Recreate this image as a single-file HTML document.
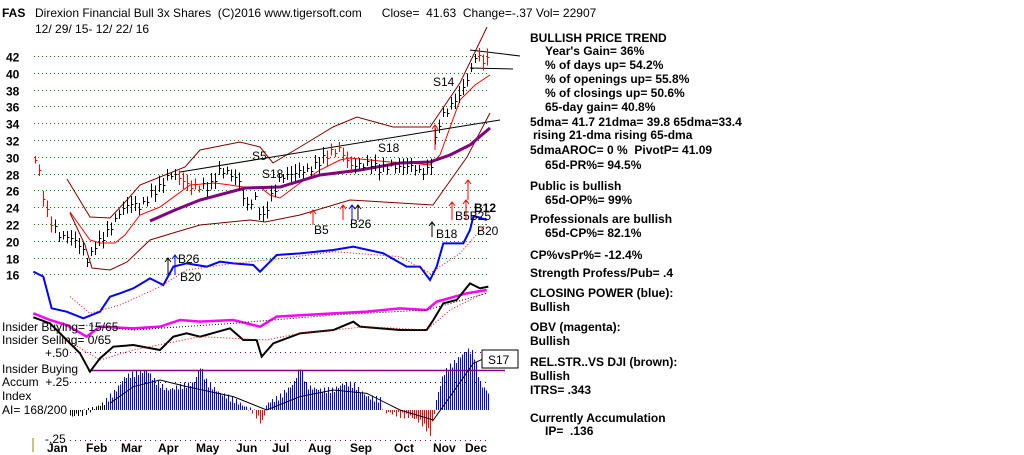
<!DOCTYPE html>
<html><head><meta charset="utf-8"><style>
body{margin:0;background:#fff;width:1024px;height:455px;overflow:hidden}
svg{position:absolute;left:0;top:0}
text{font-family:"Liberation Sans",Arial,sans-serif;font-weight:bold;font-size:12px;fill:#000}
</style></head><body>
<svg id="s" width="1024" height="455" xmlns="http://www.w3.org/2000/svg">
<g id="g"></g>
<text x="2" y="17" font-size="13">FAS</text>
<text x="35" y="17" font-size="13" style="font-weight:normal">Direxion Financial Bull 3x Shares&#160;&#160;(C)2016 www.tigersoft.com&#160;&#160;&#160;&#160;&#160;&#160;Close=&#160;&#160;41.63&#160;&#160;Change=-.37 Vol= 22907</text>
<text x="35" y="33" font-size="13" style="font-weight:normal">12/ 29/ 15- 12/ 22/ 16</text>
<g id="yl"></g>
<g font-size="12">
<text x="530" y="42">BULLISH PRICE TREND</text>
<text x="545" y="55">Year's Gain= 36%</text>
<text x="545" y="69">% of days up= 54.2%</text>
<text x="545" y="83">% of openings up= 55.8%</text>
<text x="545" y="97">% of closings up= 50.6%</text>
<text x="545" y="111">65-day gain= 40.8%</text>
<text x="530" y="126">5dma= 41.7 21dma= 39.8 65dma=33.4</text>
<text x="533" y="139">rising 21-dma  rising 65-dma</text>
<text x="530" y="154">5dmaAROC= 0 %&#160;&#160;PivotP= 41.09</text>
<text x="545" y="169">65d-PR%= 94.5%</text>
<text x="530" y="190">Public is bullish</text>
<text x="545" y="204">65d-OP%= 99%</text>
<text x="530" y="223">Professionals are bullish</text>
<text x="545" y="237">65d-CP%= 82.1%</text>
<text x="530" y="259">CP%vsPr%= -12.4%</text>
<text x="530" y="277">Strength Profess/Pub= .4</text>
<text x="530" y="297">CLOSING POWER (blue):</text>
<text x="530" y="311">Bullish</text>
<text x="530" y="331">OBV (magenta):</text>
<text x="530" y="345">Bullish</text>
<text x="530" y="366">REL.STR..VS DJI (brown):</text>
<text x="530" y="380">Bullish</text>
<text x="530" y="394">ITRS= .343</text>
<text x="530" y="422">Currently Accumulation</text>
<text x="545" y="435">IP=&#160;&#160;.136</text>
</g>
<g font-size="12">
<text x="2" y="331" style="font-weight:normal">Insider Buying= 15/65</text>
<text x="2" y="344" style="font-weight:normal">Insider Selling= 0/65</text>
<text x="45" y="357" style="font-weight:normal">+.50</text>
<text x="2" y="373" style="font-weight:normal">Insider Buying</text>
<text x="2" y="386" style="font-weight:normal">Accum&#160;&#160;+.25</text>
<text x="2" y="400" style="font-weight:normal">Index</text>
<text x="2" y="414" style="font-weight:normal">AI= 168/200</text>
<text x="45" y="443" style="font-weight:normal">-.25</text>
</g>
<g font-size="13">
<text x="47" y="452">Jan</text><text x="86" y="452">Feb</text><text x="121" y="452">Mar</text><text x="158" y="452">Apr</text><text x="196" y="452">May</text><text x="236" y="452">Jun</text><text x="272" y="452">Jul</text><text x="308" y="452">Aug</text><text x="350" y="452">Sep</text><text x="394" y="452">Oct</text><text x="433" y="452">Nov</text><text x="465" y="452">Dec</text>
</g>
<line x1="33" y1="438" x2="33" y2="452" stroke="#a08000"/>
<g>
<text x="252" y="160" font-size="15" style="font-weight:normal">S5</text>
<text x="262" y="178" font-size="15" style="font-weight:normal">S18</text>
<text x="378" y="152" font-size="15" style="font-weight:normal">S18</text>
<text x="433" y="86" font-size="15" style="font-weight:normal">S14</text>
<text x="314" y="234" font-size="13" style="font-weight:normal">B5</text>
<text x="350" y="228" font-size="13" style="font-weight:normal">B26</text>
<text x="436" y="238" font-size="13" style="font-weight:normal">B18</text>
<text x="455" y="220" font-size="13" style="font-weight:normal">B5B25</text>
<text x="474" y="212" font-size="20">B12</text>
<text x="477" y="235" font-size="15" style="font-weight:normal">B20</text>
<text x="178" y="263" font-size="13" style="font-weight:normal">B26</text>
<text x="180" y="281" font-size="15" style="font-weight:normal">B20</text>
</g>
<rect x="482" y="350" width="36" height="18" fill="#fff" stroke="#000"/>
<text x="488" y="364" font-size="14" style="font-weight:normal">S17</text>
</svg>
<script>
var g=document.getElementById('g'),out='';
function Y(p){return 56+(42-p)*8.4}
function pl(pts,c,w,d){out+='<polyline fill="none" stroke="'+c+'" stroke-width="'+w+'"'+(d?' stroke-dasharray="'+d+'"':'')+' points="'+pts.map(function(p){return p[0]+','+p[1]}).join(' ')+'"/>';}
function z(a){var r=[];for(var i=0;i<a.length;i+=2)r.push([a[i]/3,230+a[i+1]/3]);return r}
function interp(pts,x){for(var i=1;i<pts.length;i++){if(x<=pts[i][0]){var a=pts[i-1],b=pts[i],t=(x-a[0])/(b[0]-a[0]||1);return a[1]+t*(b[1]-a[1]);}}return pts[pts.length-1][1];}
var yl='';
for(var p=16;p<=42;p+=2){var y=Math.round(Y(p))+0.5;out+='<line x1="34" x2="490" y1="'+y+'" y2="'+y+'" stroke="#008000" stroke-dasharray="1,3"/>';yl+='<text x="6" y="'+(y+5)+'" font-size="13">'+p+'</text>';}
document.getElementById('yl').innerHTML=yl;
[[352.5,'#800080'],[382.5,'#000'],[440.5,'#800080']].forEach(function(a){out+='<line x1="70" x2="490" y1="'+a[0]+'" y2="'+a[0]+'" stroke="'+a[1]+'" stroke-dasharray="1,4"/>';});
var env=z([210,560,260,545,310,520,340,490,375,440,440,420,460,450,500,480,540,470,580,460,600,410,620,460,660,490,700,510,760,545,785,580,800,520,840,500,880,460,900,410,920,470,960,480,1000,480,1030,460,1060,465,1100,500,1140,510,1150,545,1200,555,1230,560,1260,575,1290,610,1300,560,1310,500,1330,430,1360,400,1400,360,1420,370,1440,460,1465,490]);
out+='<g shape-rendering="crispEdges">';
for(var x=70;x<=489;x+=2){var v=interp(env,x)+Math.sin(x*1.7)*3;var c=v>410?'#f00':'#00f';if(x<105){c='#000';}out+='<line x1="'+(x+0.5)+'" x2="'+(x+0.5)+'" y1="410" y2="'+v+'" stroke="'+c+'"/>';}
out+='</g>';
out+='<line x1="88" x2="505" y1="370.5" y2="370.5" stroke="#800080" stroke-width="1.5"/>';
pl(z([330,520,400,470,480,450,560,470,700,500,800,540,900,500,1000,480,1100,490,1200,540,1300,570,1350,500,1420,400,1465,380]),'#000',1);
var ub=[[67,179],[90,217],[110,218],[127,200],[140,185],[165,175],[185,167],[200,150],[240,142],[260,147],[273,163],[300,147],[333,127],[357,117],[393,127],[430,127],[460,83],[487,27]];
var lb=[[70,213],[85,245],[92,268],[110,270],[127,262],[150,240],[173,233],[200,225],[250,220],[265,222],[300,215],[350,200],[400,203],[433,205],[467,157],[490,113]];
pl(ub,'#800000',1);pl(lb,'#800000',1);
pl([[70,212],[90,240],[100,243],[115,243],[125,235],[140,215],[160,207],[190,185],[215,183],[230,185],[250,188],[260,187],[270,195],[280,198],[300,183],[320,170],[340,160],[350,158],[370,160],[390,162],[410,163],[430,165],[440,155],[460,100],[475,85],[490,75]],'#f00',1);
pl([[150,221],[175,210],[200,200],[245,188],[280,187],[320,175],[360,170],[400,163],[430,162],[450,155],[470,145],[490,128]],'#800080',3);
pl([[180,172],[500,120]],'#000',1);pl([[470,50],[520,56]],'#000',1);pl([[470,68],[513,69]],'#000',1);
var pp=[[35,30],[40,27.5],[45,24],[52,22],[60,20.5],[70,20.5],[80,19.5],[88,17.5],[95,19.5],[100,20],[110,21.5],[120,23.5],[130,24.5],[140,24],[150,25.5],[160,26.5],[170,28],[180,27.5],[190,26.5],[200,26.5],[210,26.5],[220,28.5],[230,28],[240,27],[245,24],[255,25],[262,22.5],[270,25],[280,27.5],[290,28],[300,28.3],[310,28.5],[320,29.5],[330,30.5],[340,31],[350,29],[360,29],[370,29.3],[380,28.5],[390,29],[400,28.8],[410,29],[420,28.2],[430,28.5],[435,32],[440,34.5],[450,36],[460,37.5],[470,40],[475,42],[485,41.5],[490,41.5]];
out+='<g shape-rendering="crispEdges">';
for(var x=35;x<=490;x+=4){var p=interp(pp,x)+Math.sin(x*2.3)*0.4;var h=0.4+Math.abs(Math.sin(x*0.9))*0.6;var c=(Math.sin(x*3.1)>0.85)?'#f00':'#000';var X=x+0.5;out+='<line x1="'+X+'" x2="'+X+'" y1="'+Y(p+h)+'" y2="'+Y(p-h)+'" stroke="'+c+'"/><line x1="'+X+'" x2="'+(X+2)+'" y1="'+Math.round(Y(p))+'.5" y2="'+Math.round(Y(p))+'.5" stroke="'+c+'"/>';}
out+='</g>';
pl(z([100,125,130,140,155,235,200,245,250,265,300,245,330,200,360,190,400,175,450,145,490,165,520,110,560,100,620,110,660,95,700,100,760,105,780,125,830,75,900,70,1000,60,1060,50,1150,70,1220,110,1260,110,1290,150,1310,110,1330,40,1390,40,1410,0,1420,-40,1430,-40,1460,-30]),'#00f',2);
pl(z([210,200,270,250,360,225,480,170,560,120,700,100,850,85,1000,65,1200,80,1290,130,1380,70,1460,-20]),'#f00',1,'1,2');
pl(z([100,250,150,270,200,285,260,320,300,290,400,295,480,290,540,270,600,275,700,270,780,290,830,260,1000,250,1100,245,1200,235,1280,240,1310,215,1400,190,1460,180]),'#f0f',2.5);
pl(z([100,262,150,280,200,330,240,370,270,425,300,385,340,350,400,345,480,360,520,320,560,310,600,320,690,295,730,330,770,330,785,380,820,340,900,310,1000,300,1060,275,1080,290,1200,300,1280,300,1300,270,1330,220,1370,210,1410,160,1440,175,1465,170]),'#000',2);
pl(z([200,330,300,390,400,360,600,320,800,330,900,310,1100,290,1280,300,1350,240,1460,185]),'#f00',1,'1,2');
pl(z([250,285,400,300,700,280,1000,255,1280,240,1460,190]),'#000',1,'1,2');
function arr(x,y1,y2,c){out+='<line x1="'+x+'" x2="'+x+'" y1="'+y1+'" y2="'+y2+'" stroke="'+c+'"/><polyline fill="none" stroke="'+c+'" points="'+(x-3)+','+(y2+4)+' '+x+','+y2+' '+(x+3)+','+(y2+4)+'"/>';}
arr(313,225,210,'#f00');arr(343,220,205,'#f00');arr(352,220,205,'#00f');arr(358,220,205,'#000');arr(432,237,222,'#000');arr(452,220,202,'#f00');arr(468,200,180,'#f00');arr(466,220,200,'#f00');arr(168,275,258,'#000');arr(175,275,255,'#00f');
arr(435,150,125,'#f00');
g.innerHTML=out;
</script>
</body></html>
